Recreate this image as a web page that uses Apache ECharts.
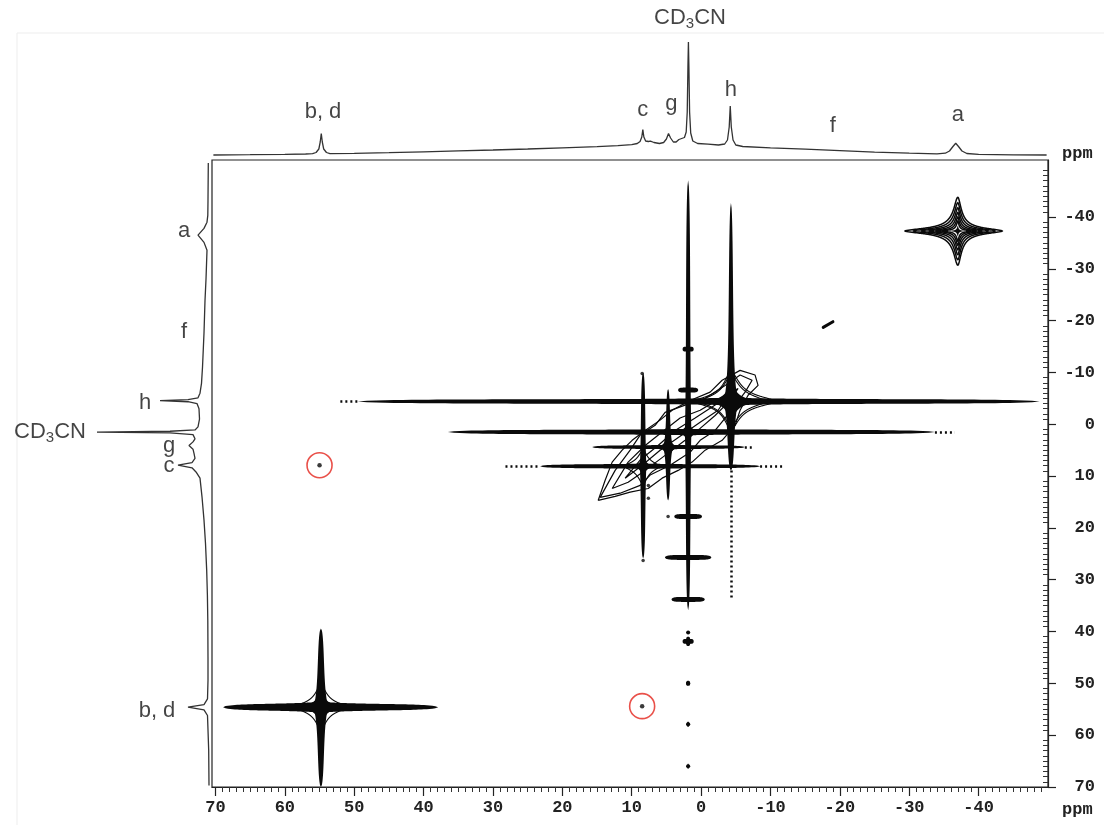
<!DOCTYPE html>
<html><head><meta charset="utf-8">
<script src="https://cdn.jsdelivr.net/npm/echarts@6/dist/echarts.min.js"></script>
<style>html,body{margin:0;padding:0;background:#fff}#c{width:1104px;height:825px}</style>
</head><body><div id="c"></div>
<script>
// ---------- axis tick labels (ppm) ----------
const xTickLabels = [70, 60, 50, 40, 30, 20, 10, 0, -10, -20, -30, -40];
const yTickLabels = [-40, -30, -20, -10, 0, 10, 20, 30, 40, 50, 60, 70];

// ---------- 1D projection on top: [ppm, intensity] ----------
const topTrace = [
  [70.3,2],[65,2.3],[60,2.6],[57,3],[56,3.3],[55.5,4.5],[55.1,8],[54.9,15],[54.75,23.5],[54.6,15],[54.4,8],[54.0,4.5],[53.5,3.4],
  [50,3.6],[45,4.3],[40,5.2],[35,6.1],[30,7],[25,8],[20,9.2],[15,10.3],[12,11.3],[10,12.3],[9.2,13.5],[8.8,15.5],[8.55,20],
  [8.4,27.5],[8.25,20],[8.0,16],[7.6,15.5],[7.3,15.8],[6.8,14.5],[6.0,13.5],[5.4,14.5],[5.0,18],[4.7,23.5],[4.4,19],[4.0,15],
  [3.6,15],[3.2,17.5],[2.8,18.5],[2.4,19.5],[2.15,25],[2.0,45],[1.9,90],[1.83,115],[1.76,90],[1.66,45],[1.5,24],[1.2,16],
  [0.5,13.5],[-1,12.8],[-2.5,12],[-3.4,13],[-3.8,17],[-4.05,30],[-4.2,51],[-4.35,30],[-4.6,17],[-5.0,12],[-6,10.5],[-10,9.2],
  [-15,7.8],[-20,6.3],[-25,4.8],[-30,3.8],[-34,3.2],[-35.2,3.8],[-35.8,6],[-36.3,10.5],[-36.7,13.7],[-37.1,10.5],[-37.6,6],
  [-38.3,3.5],[-40,2.6],[-45,2.2],[-49.8,2]
];
// ---------- 1D projection on the left: [intensity, ppm] ----------
const leftTrace = [
  [1.7,-50.4],[2,-43.2],[2.2,-40.3],[3,-39],[6,-37.8],[12,-36.5],[6,-35.1],[3,-33.6],[4,-28],[5,-23.9],[6,-17.6],[7.5,-11],
  [8.5,-7.9],[10,-6],[12,-5.1],[22,-4.75],[50,-4.55],[22,-4.35],[13,-4.0],[11,-3],[10.5,-1],[12,0.5],[15,1.1],[40,1.35],
  [113,1.5],[40,1.65],[17,2.0],[15,2.8],[17,3.4],[21,4.1],[17,4.8],[16,5.6],[15,6.6],[18,7.4],[32,7.9],[18,8.4],[14,9.2],
  [10,10.4],[8,14],[6,18.5],[4.5,23],[3.3,28.2],[2.6,33],[2.2,37.8],[2,45],[2,49.4],[2.5,53],[6,54.1],[22,54.6],[6,55.1],
  [2.5,56.2],[1.3,62.9],[1,69.7]
];
// ---------- 1D labels ----------
const topLabels = [[54.5,45,'b, d'],[8.4,47,'c'],[4.3,53,'g'],[1.6,139,'CD3CN'],[-4.3,67,'h'],[-19.0,31,'f'],[-37.0,42,'a']];
const leftLabels = [[26,-37.3,'a'],[26,-17.8,'f'],[65,-4.2,'h'],[160,1.5,'CD3CN'],[41,4.1,'g'],[41,8.1,'c'],[53,55.4,'b, d']];

// ---------- 2D diagonal peaks: [name, x, y, x end (high ppm), x end (low ppm), y end (top), y end (bottom)] ----------
const diagPeaks = [
  ['a', -37.0, -37.3, -29.4, -43.4, -43.8, -30.7],
  ['h', -4.3, -4.4, 49.5, -48.8, -42.7, 8.9],
  ['CD3CN', 1.87, 1.5, 36.5, -33.7, -47.1, 35.9],
  ['c', 8.36, 8.1, 23.2, -8.5, -10.0, 25.9],
  ['g', 4.76, 4.4, 15.7, -6.3, -6.8, 14.7],
  ['b,d', 54.8, 54.6, 68.9, 37.9, 39.4, 70]
];
// off-diagonal (circled) cross peaks [x, y]
const crossPeaks = [[55.0, 7.9], [8.5, 54.4]];
// spinning sidebands along the CD3CN column: [x, y, half-width x, half-width y] (ppm)
const sidebands = [
  [1.87,-14.5,0.8,0],[1.87,-6.6,1.45,0],[1.87,17.8,2.0,0],[1.87,25.7,3.35,0],[1.87,33.8,2.4,0],
  [1.87,41.9,0.8,0.9],[1.87,50.0,0.25,0.3],[1.87,57.9,0.15,0.2],[1.87,66.0,0.1,0.15],[1.87,40.2,0.05,0.1]
];
// dotted ends of ridges: [x1, y1, x2, y2]
const dottedTails = [
  [52.0,-4.4,49.5,-4.4],[-4.3,8.9,-4.3,33.6],[-33.7,1.5,-36.6,1.5],
  [28.2,8.1,23.2,8.1],[-8.5,8.1,-12.1,8.1],[-6.3,4.4,-7.3,4.4]
];
const smallDots = [[8.5,-9.8],[8.36,26.3],[7.6,11.8],[7.6,14.3],[4.76,17.8]];
const fDash = [[-17.6,-18.7],[-19.0,-19.8]];
// contour outlines of the diagonal ridge between c, g, CD3CN and h
const ridgeWide = [[14.84,14.7],[13.83,10.8],[12.82,7.3],[11.38,5.0],[9.94,3.1],[8.07,1.2],[5.91,-0.8],[4.18,-2.7],[1.59,-4.6],
  [-1.30,-6.2],[-3.03,-8.5],[-5.62,-10.4],[-7.78,-9.5],[-8.21,-7.5],[-6.77,-5.6],[-5.62,-2.7],[-4.90,0.2],[-3.03,3.1],[-0.58,5.0],
  [1.30,7.3],[3.31,8.9],[5.62,10.4],[7.64,12.4],[10.23,13.1],[12.39,13.9],[14.84,14.7]];
const ridgeOuter = [[14.55,14.1],[12.39,8.9],[10.23,5.0],[8.79,2.1],[6.63,0.2],[5.19,-2.3],[2.31,-3.7],[-0.58,-5.0],[-3.46,-7.5],
  [-5.62,-9.5],[-7.35,-8.5],[-6.34,-6.2],[-4.90,-3.7],[-3.46,-1.2],[-2.02,1.2],[0.14,3.1],[1.59,5.4],[4.47,7.9],[7.35,9.8],
  [8.79,11.8],[11.67,13.3],[14.55,14.1]];
const ridgeMid = [[12.82,12.4],[10.52,7.3],[8.07,4.1],[5.62,1.5],[3.03,-1.2],[0.14,-2.7],[-2.74,-5.0],[-5.33,-6.9],[-4.18,-4.6],
  [-2.02,-1.7],[0.14,0.8],[2.31,3.1],[5.19,6.0],[8.07,8.9],[10.52,11.2],[12.82,12.4]];
const ridgeInner = [[10.95,10.4],[8.79,6.9],[6.20,4.1],[3.75,1.2],[0.86,-1.2],[-2.02,-3.7],[-3.89,-5.6],[-2.45,-2.7],[0.14,-0.4],
  [3.03,2.3],[5.91,5.0],[8.50,7.9],[10.95,10.4]];

// ---------- drawing styles (pixels) ----------
const peakStyle = {
  'a':     {outline: true, M: 220, levels: [1, .84, .69, .55, .42, .3]},
  'h':     {M: 40, star: [24, 18, 20, 18], h: [8, 3.6, 50], v: [15, 2.2, 22], halo: [[34, 26, 30, 24, 25], [44, 30, 36, 28, 40]]},
  'CD3CN': {M: 30, star: [10, 10, 10, 10], h: [6.5, 3.6, 60], v: [6.5, 3.2, 60]},
  'c':     {M: 30, star: [9, 10, 9, 10], h: [5.5, 3, 40], v: [6.5, 2.8, 40], halo: [[16, 16, 18, 18, 20]]},
  'g':     {M: 30, star: [8, 14, 8, 14], h: [4.5, 2.8, 30], v: [10, 1.4, 14]},
  'b,d':   {M: 60, star: [20, 18, 20, 18], h: [11, 3.8, 40], v: [15, 2.4, 20], halo: [[26, 22, 26, 22, 30]]}
};
const INK = '#0a0a0a';
const LABEL_FONT = 'Liberation Sans, Arial, sans-serif';
const AXIS_FONT = 'Liberation Mono, Courier New, monospace';

function lorentzStar(cx, cy, Lr, Lu, Ll, Ld, M) {
  const T = Math.sqrt(M - 1), pts = [], N = 720;
  for (let i = 0; i < N; i++) {
    const th = i / N * 2 * Math.PI, c = Math.cos(th), s = Math.sin(th);
    const ab = c * c * s * s;
    const R = ab < 1e-12 ? M - 1 : (-1 + Math.sqrt(1 + 4 * ab * (M - 1))) / (2 * ab);
    const r = Math.sqrt(R) / T;
    pts.push([cx + r * c * (c >= 0 ? Lr : Ll), cy - r * s * (s >= 0 ? Lu : Ld)]);
  }
  return pts;
}
function armPoly(cx, cy, ex, ey, w0, w1, k) {
  const dx = ex - cx, dy = ey - cy, len = Math.hypot(dx, dy);
  if (len < 0.5) return null;
  const ux = dx / len, uy = dy / len, nx = -uy, ny = ux, A = [], B = [], N = 80;
  for (let i = 0; i <= N; i++) {
    const t = i / N, d = len * t * t;
    const taper = Math.sqrt(Math.max(0, 1 - Math.pow(d / len, 6)));
    const w = (w1 + (w0 - w1) * k / (d + k)) * taper / 2;
    A.push([cx + ux * d + nx * w, cy + uy * d + ny * w]);
    B.push([cx + ux * d - nx * w, cy + uy * d - ny * w]);
  }
  return A.concat(B.reverse());
}

const xMinor = [], yMinor = [];
for (let v = -50; v <= 70; v++) { if (v % 10 !== 0) { xMinor.push(v); yMinor.push(v); } }

const mainAxisLine = {show: true, onZero: false, lineStyle: {color: '#222', width: 1.2}};
const tickLabelStyle = {fontFamily: AXIS_FONT, fontWeight: 'bold', fontSize: 17, color: '#222'};

function richLabel(t) {
  return t === 'CD3CN' ? '{n|CD}{s|3}{n|CN}' : '{n|' + t + '}';
}
const labelRich = {
  n: {fontFamily: LABEL_FONT, fontSize: 22, color: '#151515', lineHeight: 26},
  s: {fontFamily: LABEL_FONT, fontSize: 15, color: '#151515', lineHeight: 10, verticalAlign: 'bottom'}
};

const chart = echarts.init(document.getElementById('c'));
chart.setOption({
  animation: false,
  backgroundColor: '#fff',
  grid: [
    {left: 212, right: 56, top: 160, bottom: 38, show: true, borderColor: '#222', borderWidth: 1.2, backgroundColor: 'transparent'},
    {left: 212, right: 56, top: 0, bottom: 668},
    {left: 0, right: 894, top: 160, bottom: 38}
  ],
  xAxis: [
    {gridIndex: 0, type: 'value', inverse: true, min: -50, max: 70.5, position: 'bottom',
     axisLine: mainAxisLine, splitLine: {show: false},
     axisTick: {show: true, customValues: xTickLabels, length: 9, lineStyle: {color: '#222', width: 1.2}},
     axisLabel: Object.assign({customValues: xTickLabels, margin: 12}, tickLabelStyle)},
    {gridIndex: 0, type: 'value', inverse: true, min: -50, max: 70.5, position: 'bottom',
     axisLine: {show: false, onZero: false}, splitLine: {show: false}, axisLabel: {show: false},
     axisTick: {show: true, customValues: xMinor, length: 5, lineStyle: {color: '#333', width: 1}}},
    {gridIndex: 1, type: 'value', inverse: true, min: -50, max: 70.5, show: false},
    {gridIndex: 2, type: 'value', inverse: true, min: 0, max: 210, show: false}
  ],
  yAxis: [
    {gridIndex: 0, type: 'value', inverse: true, min: -51, max: 70, position: 'right',
     axisLine: mainAxisLine, splitLine: {show: false},
     axisTick: {show: true, customValues: yTickLabels, length: 8, lineStyle: {color: '#222', width: 1.2}},
     axisLabel: Object.assign({customValues: yTickLabels, margin: 47, align: 'right'}, tickLabelStyle)},
    {gridIndex: 0, type: 'value', inverse: true, min: -51, max: 70, position: 'right',
     axisLine: {show: false, onZero: false}, splitLine: {show: false}, axisLabel: {show: false},
     axisTick: {show: true, inside: true, customValues: yMinor, length: 5, lineStyle: {color: '#333', width: 1}}},
    {gridIndex: 1, type: 'value', min: 0, max: 157, show: false},
    {gridIndex: 2, type: 'value', inverse: true, min: -51, max: 70, show: false}
  ],
  graphic: [
    {type: 'rect', shape: {x: 17, y: 33, width: 1100, height: 800}, style: {fill: 'none', stroke: '#ededed', lineWidth: 1}, silent: true, z: -10},
    {type: 'text', left: 1062, top: 801, style: {text: 'ppm', font: 'bold 17px ' + AXIS_FONT, fill: '#222'}},
    {type: 'text', left: 1062, top: 145, style: {text: 'ppm', font: 'bold 17px ' + AXIS_FONT, fill: '#222'}}
  ],
  series: [
    {type: 'line', name: 'top projection', xAxisIndex: 2, yAxisIndex: 2, data: topTrace, showSymbol: false, symbol: 'none',
     lineStyle: {color: '#333', width: 1.3}, silent: true, clip: false},
    {type: 'line', name: 'left projection', xAxisIndex: 3, yAxisIndex: 3, data: leftTrace, showSymbol: false, symbol: 'none',
     lineStyle: {color: '#333', width: 1.3}, silent: true, clip: false},
    ...[ridgeWide, ridgeOuter, ridgeMid, ridgeInner].map((r, i) => ({
      type: 'line', name: 'ridge' + i, xAxisIndex: 0, yAxisIndex: 0, data: r, showSymbol: false, symbol: 'none',
      lineStyle: {color: INK, width: 1.2}, silent: true, z: 2})),
    {type: 'line', name: 'f', xAxisIndex: 0, yAxisIndex: 0, data: fDash, showSymbol: false, symbol: 'none',
     lineStyle: {color: INK, width: 3, cap: 'round'}, silent: true},
    {type: 'custom', name: 'diagonal peaks', xAxisIndex: 0, yAxisIndex: 0, silent: true, z: 3, clip: true,
     data: diagPeaks.map(p => [p[1], p[2]]),
     encode: {x: 0, y: 1},
     renderItem: function (params, api) {
       const p = diagPeaks[params.dataIndex], st = peakStyle[p[0]];
       const c = api.coord([p[1], p[2]]);
       const eL = api.coord([p[3], p[2]]), eR = api.coord([p[4], p[2]]);
       const eT = api.coord([p[1], p[5]]), eB = api.coord([p[1], p[6]]);
       const children = [];
       if (st.outline) {
         const Lr = eR[0] - c[0], Ll = c[0] - eL[0], Lu = c[1] - eT[1], Ld = eB[1] - c[1];
         st.levels.forEach(f => children.push({type: 'polygon',
           shape: {points: lorentzStar(c[0], c[1], Lr * f, Lu * f, Ll * f, Ld * f, st.M)},
           style: {fill: 'none', stroke: INK, lineWidth: 1.5}}));
         children.push({type: 'polygon', shape: {points: lorentzStar(c[0], c[1], Lr * .16, Lu * .16, Ll * .16, Ld * .16, st.M)},
           style: {fill: INK}});
       } else {
         (st.halo || []).forEach(hl => children.push({type: 'polygon',
           shape: {points: lorentzStar(c[0], c[1], hl[0], hl[1], hl[2], hl[3], hl[4])},
           style: {fill: 'none', stroke: INK, lineWidth: 1.1}}));
         [[eL, 'h'], [eR, 'h'], [eT, 'v'], [eB, 'v']].forEach(([e, o]) => {
           const w = st[o], pts = armPoly(c[0], c[1], e[0], e[1], w[0], w[1], w[2]);
           if (pts) children.push({type: 'polygon', shape: {points: pts}, style: {fill: INK}});
         });
         const s = st.star;
         children.push({type: 'polygon', shape: {points: lorentzStar(c[0], c[1], s[0], s[1], s[2], s[3], st.M)}, style: {fill: INK}});
       }
       return {type: 'group', children: children};
     }},
    {type: 'custom', name: 'sidebands', xAxisIndex: 0, yAxisIndex: 0, silent: true, z: 3,
     data: sidebands, encode: {x: 0, y: 1},
     renderItem: function (params, api) {
       const c = api.coord([api.value(0), api.value(1)]);
       const ex = api.coord([api.value(0) + api.value(2), api.value(1)]);
       const ey = api.coord([api.value(0), api.value(1) + api.value(3)]);
       const hx = Math.abs(ex[0] - c[0]), hy = Math.abs(ey[1] - c[1]);
       const ch = [];
       [[c[0] - hx, c[1]], [c[0] + hx, c[1]]].forEach(e => {
         const pts = armPoly(c[0], c[1], e[0], e[1], 5, 3, 200); if (pts) ch.push({type: 'polygon', shape: {points: pts}, style: {fill: INK}});
       });
       [[c[0], c[1] - hy], [c[0], c[1] + hy]].forEach(e => {
         const pts = armPoly(c[0], c[1], e[0], e[1], 4, 2.5, 200); if (pts) ch.push({type: 'polygon', shape: {points: pts}, style: {fill: INK}});
       });
       ch.push({type: 'circle', shape: {cx: c[0], cy: c[1], r: 2}, style: {fill: INK}});
       return {type: 'group', children: ch};
     }},
    {type: 'lines', name: 'dotted tails', coordinateSystem: 'cartesian2d', xAxisIndex: 0, yAxisIndex: 0, silent: true, z: 3,
     data: dottedTails.map(d => ({coords: [[d[0], d[1]], [d[2], d[3]]]})),
     lineStyle: {color: INK, width: 2.5, type: [2, 3], opacity: 1}},
    {type: 'scatter', name: 'dots', xAxisIndex: 0, yAxisIndex: 0, data: smallDots, symbolSize: 3.5,
     itemStyle: {color: INK}, silent: true, z: 3},
    {type: 'scatter', name: 'cross peaks', xAxisIndex: 0, yAxisIndex: 0, data: crossPeaks, symbolSize: 4.5,
     itemStyle: {color: INK}, silent: true, z: 4},
    {type: 'scatter', name: 'circles', xAxisIndex: 0, yAxisIndex: 0, data: crossPeaks, symbol: 'circle', symbolSize: 25,
     itemStyle: {color: 'rgba(0,0,0,0)', borderColor: '#e3241b', borderWidth: 1.6}, silent: true, z: 5},
    {type: 'scatter', name: 'top labels', xAxisIndex: 2, yAxisIndex: 2, clip: false, symbolSize: 1,
     itemStyle: {color: 'rgba(0,0,0,0)'}, silent: true,
     data: topLabels.map(l => ({value: [l[0], l[1]], name: l[2]})),
     label: {show: true, position: 'inside', formatter: p => richLabel(p.name), rich: labelRich}},
    {type: 'scatter', name: 'left labels', xAxisIndex: 3, yAxisIndex: 3, clip: false, symbolSize: 1,
     itemStyle: {color: 'rgba(0,0,0,0)'}, silent: true,
     data: leftLabels.map(l => ({value: [l[0], l[1]], name: l[2]})),
     label: {show: true, position: 'inside', formatter: p => richLabel(p.name), rich: labelRich}}
  ]
});
</script>
</body></html>
